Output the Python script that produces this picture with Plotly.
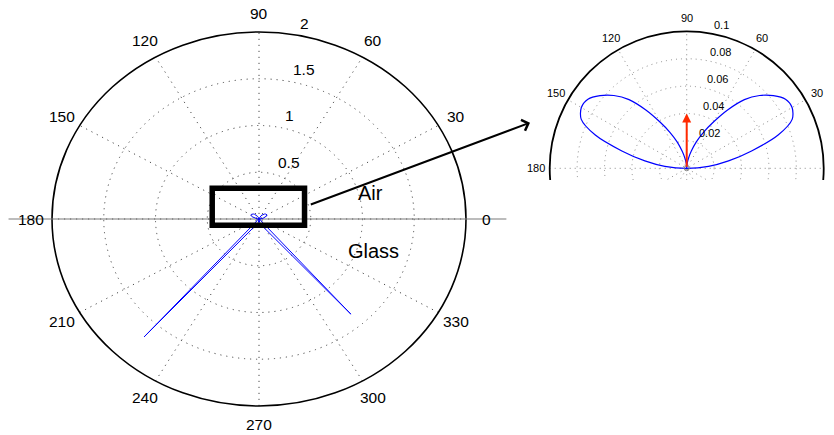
import numpy as np
import plotly.graph_objects as go

# ---------------- data ----------------
# emission pattern on the air side (degrees, relative intensity)
air_angles = [0, 5, 10, 15, 20, 25, 30, 35, 40, 45, 50, 55, 60, 65, 70, 75, 80, 85, 90,
              95, 100, 105, 110, 115, 120, 125, 130, 135, 140, 145, 150, 155, 160, 165,
              170, 175, 180]
air_r = [0.0, 0.016, 0.031, 0.049, 0.071, 0.085, 0.0888, 0.088, 0.0826, 0.0752, 0.0655,
         0.052, 0.039, 0.029, 0.0205, 0.013, 0.0075, 0.0035, 0.0,
         0.0035, 0.0075, 0.013, 0.0205, 0.029, 0.039, 0.052, 0.0655, 0.0752, 0.0826,
         0.088, 0.0888, 0.085, 0.071, 0.049, 0.031, 0.016, 0.0]

# emission pattern on the glass side
glass_angles = [190, 200, 210, 220, 226, 228.65, 250, 260, 270, 280, 290, 311.1, 314,
                320, 330, 340, 350, 360]
glass_r = [0.006, 0.012, 0.018, 0.025, 0.03, 1.68, 0.07, 0.04, 0.0, 0.04, 0.07, 1.35,
           0.03, 0.025, 0.018, 0.012, 0.006, 0.0]

main_r_ticks = [0.5, 1.0, 1.5, 2.0]
main_r_labels = ["0.5", "1", "1.5", "2"]
inset_r_ticks = [0.02, 0.04, 0.06, 0.08, 0.1]
inset_r_labels = ["0.02", "0.04", "0.06", "0.08", "0.1"]
angle_ticks = [0, 30, 60, 90, 120, 150, 180, 210, 240, 270, 300, 330]
angle_labels = ["0", "30", "60", "90", "120", "150", "180", "210", "240", "270", "300", "330"]
spoke_angles = [0, 30, 60, 90, 120, 150]
dipole_length = 0.04
medium_labels = ["Air", "Glass"]

# ---------------- helpers ----------------
def pol2cart(theta_deg, r):
    t = np.deg2rad(np.asarray(theta_deg, dtype=float))
    r = np.asarray(r, dtype=float)
    return r * np.cos(t), r * np.sin(t)

FONT = "Liberation Sans, Arial, Helvetica, sans-serif"
W, H = 834, 435

fig = go.Figure()
shapes = []
annotations = []

def add_polar_grid(xref, yref, ticks, rmax, grid_color, dash, outer_width):
    for r in ticks[:-1]:
        shapes.append(dict(type="circle", xref=xref, yref=yref, x0=-r, x1=r, y0=-r, y1=r,
                           line=dict(color=grid_color, width=1, dash=dash), layer="below"))
    for a in spoke_angles:
        x1, y1 = pol2cart(a, rmax)
        shapes.append(dict(type="line", xref=xref, yref=yref, x0=-float(x1), y0=-float(y1),
                           x1=float(x1), y1=float(y1),
                           line=dict(color=grid_color, width=1, dash=dash), layer="below"))
    shapes.append(dict(type="circle", xref=xref, yref=yref, x0=-rmax, x1=rmax,
                       y0=-rmax, y1=rmax, line=dict(color="black", width=outer_width),
                       layer="below"))

# ---------------- main polar plot (left) ----------------
rmax_main = main_r_ticks[-1]
# interface line
fig.add_trace(go.Scatter(x=[-2.42, 2.39], y=[0, 0], mode="lines",
                         line=dict(color="#7a7a7a", width=1.2), hoverinfo="skip",
                         xaxis="x", yaxis="y"))
add_polar_grid("x", "y", main_r_ticks, rmax_main, "#4a4a4a", "1.2px,4.8px", 1.6)

all_angles = air_angles + glass_angles
all_r = air_r + glass_r
mx, my = pol2cart(all_angles, all_r)
fig.add_trace(go.Scatter(x=mx, y=my, mode="lines", line=dict(color="#0000ff", width=1),
                         hoverinfo="skip", xaxis="x", yaxis="y"))

for a, lab in zip(angle_ticks, angle_labels):
    x, y = pol2cart(a, 1.1 * rmax_main)
    annotations.append(dict(x=float(x), y=float(y), xref="x", yref="y", text=lab,
                            showarrow=False, xanchor="center", yanchor="middle",
                            font=dict(family=FONT, size=15.5, color="black")))
for r, lab in zip(main_r_ticks, main_r_labels):
    x, y = pol2cart(82, r)
    annotations.append(dict(x=float(x), y=float(y), xref="x", yref="y", text=lab,
                            showarrow=False, xanchor="left", yanchor="bottom", xshift=10,
                            font=dict(family=FONT, size=15.5, color="black")))

annotations.append(dict(x=1.082, y=0.281, xref="x", yref="y", text=medium_labels[0],
                        showarrow=False, font=dict(family=FONT, size=20, color="black")))
annotations.append(dict(x=1.111, y=-0.339, xref="x", yref="y", text=medium_labels[1],
                        showarrow=False, font=dict(family=FONT, size=20, color="black")))

# zoom box
shapes.append(dict(type="rect", xref="x", yref="y", x0=-0.452, x1=0.440, y0=-0.066,
                   y1=0.329, line=dict(color="black", width=5.5), layer="above"))

# arrow to inset
annotations.append(dict(xref="paper", yref="paper", x=530 / W, y=1 - 122.7 / H,
                        axref="pixel", ayref="pixel", ax=-220.7, ay=82.3, text="",
                        showarrow=True, arrowhead=4, arrowsize=1.1, arrowwidth=2,
                        arrowcolor="black", standoff=0))

# ---------------- inset (right) ----------------
rmax_in = inset_r_ticks[-1]
add_polar_grid("x2", "y2", inset_r_ticks, rmax_in, "#8a8a8a", "1px,4px", 1.8)

ix, iy = pol2cart(air_angles, air_r)
fig.add_trace(go.Scatter(x=ix, y=iy, mode="lines",
                         line=dict(color="#0000ff", width=1.2, shape="spline", smoothing=0.8),
                         hoverinfo="skip", xaxis="x2", yaxis="y2"))
fig.add_trace(go.Scatter(x=[0], y=[0], mode="markers",
                         marker=dict(symbol="circle-open", size=5, color="#888888",
                                     line=dict(width=1)),
                         hoverinfo="skip", xaxis="x2", yaxis="y2"))
annotations.append(dict(x=0, y=dipole_length, xref="x2", yref="y2", ax=0, ay=0,
                        axref="x2", ayref="y2", text="", showarrow=True, arrowhead=2,
                        arrowsize=0.9, arrowwidth=2, arrowcolor="#ff2a00", standoff=0))

x2_range = [-0.115, 0.1075]
y2_range = [-0.00854, 0.1229]
for a, lab in zip(angle_ticks, angle_labels):
    x, y = pol2cart(a, 1.1 * rmax_in)
    if x2_range[0] <= x <= x2_range[1] and y2_range[0] <= y <= y2_range[1]:
        annotations.append(dict(x=float(x), y=float(y), xref="x2", yref="y2", text=lab,
                                showarrow=False, xanchor="center", yanchor="middle",
                                font=dict(family=FONT, size=11, color="black")))
for r, lab in zip(inset_r_ticks, inset_r_labels):
    x, y = pol2cart(82, r)
    annotations.append(dict(x=float(x), y=float(y), xref="x2", yref="y2", text=lab,
                            showarrow=False, xanchor="left", yanchor="bottom", xshift=6.5,
                            font=dict(family=FONT, size=11, color="black")))

hidden = dict(visible=False, showgrid=False, zeroline=False, fixedrange=True)
fig.update_layout(
    width=W, height=H, margin=dict(l=0, r=0, t=0, b=0),
    paper_bgcolor="white", plot_bgcolor="rgba(0,0,0,0)", showlegend=False,
    xaxis=dict(domain=[0.25 / W, 517.75 / W], range=[-2.5, 2.5], anchor="y", **hidden),
    yaxis=dict(domain=[0.95 / H, 431.05 / H], range=[-2.3, 2.3], anchor="x", **hidden),
    xaxis2=dict(domain=[529.15 / W, 1.0], range=x2_range, anchor="y2", **hidden),
    yaxis2=dict(domain=[255 / H, 1.0], range=y2_range, anchor="x2", **hidden),
    shapes=shapes, annotations=annotations,
)

fig.write_html("out.html")
